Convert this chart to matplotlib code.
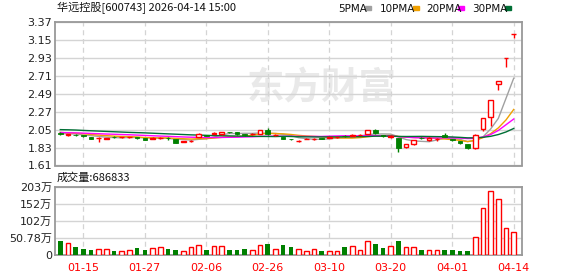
import matplotlib
matplotlib.use('Agg')
import numpy as np
import matplotlib.pyplot as plt

RED = '#ff0000'
GREEN = '#008000'
GRID = '#d4d4d4'
SPINE = '#999999'
MA_COLOURS = {'5PMA': '#a0a0a0', '10PMA': '#f0a000', '20PMA': '#ff00ff', '30PMA': '#006f35'}
CJK = ['DejaVu Sans', 'Noto Sans CJK SC']

# ── data ───────────────────────────────────────────────────────────────────
opens = [2.01, 1.99, 1.99, 1.985, 1.965, 1.945, 1.94, 1.965, 1.955, 1.955,
         1.955, 1.945, 1.94, 1.945, 1.95, 1.93, 1.90, 1.91, 1.965, 1.98,
         2.00, 1.995, 2.02, 2.015, 1.995, 1.995, 2.00, 2.04, 1.98, 1.965,
         1.935, 1.905, 1.935, 1.935, 1.945, 1.95, 1.955, 1.975, 1.975, 1.985,
         2.00, 2.05, 1.985, 1.965, 1.945, 1.84, 1.87, 1.95, 1.92, 1.93,
         1.99, 1.93, 1.91, 1.87, 1.83, 2.06, 2.21, 2.61, 2.93, 3.22]
highs = [2.015, 2.00, 1.995, 1.99, 1.965, 1.955, 1.95, 1.97, 1.965, 1.965,
         1.96, 1.95, 1.955, 1.96, 1.955, 1.935, 1.91, 1.925, 2.005, 1.985,
         2.02, 2.025, 2.025, 2.02, 2.00, 2.01, 2.045, 2.07, 1.995, 1.965,
         1.94, 1.92, 1.95, 1.945, 1.95, 1.96, 1.965, 1.985, 2.00, 1.995,
         2.045, 2.055, 1.99, 1.99, 1.95, 1.875, 1.925, 1.96, 1.955, 1.945,
         2.005, 1.94, 1.915, 1.875, 1.995, 2.195, 2.41, 2.65, 2.93, 3.22]
lows = [1.99, 1.975, 1.975, 1.965, 1.935, 1.90, 1.93, 1.95, 1.95, 1.95,
        1.94, 1.92, 1.935, 1.93, 1.925, 1.885, 1.895, 1.895, 1.96, 1.97,
        1.995, 1.99, 2.01, 1.99, 1.97, 1.99, 1.995, 1.99, 1.97, 1.93,
        1.92, 1.895, 1.93, 1.925, 1.935, 1.95, 1.95, 1.965, 1.97, 1.985,
        1.995, 2.00, 1.965, 1.95, 1.775, 1.82, 1.865, 1.935, 1.915, 1.905,
        1.96, 1.915, 1.875, 1.81, 1.81, 2.03, 2.10, 2.53, 2.82, 3.17]
closes = [1.995, 1.995, 1.98, 1.97, 1.94, 1.95, 1.945, 1.955, 1.96, 1.96,
          1.945, 1.925, 1.95, 1.95, 1.945, 1.89, 1.905, 1.915, 2.00, 1.975,
          2.005, 2.02, 2.015, 1.995, 1.99, 2.00, 2.045, 1.995, 1.985, 1.935,
          1.93, 1.91, 1.94, 1.94, 1.94, 1.955, 1.96, 1.97, 1.98, 1.99,
          2.04, 2.005, 1.97, 1.97, 1.825, 1.87, 1.92, 1.945, 1.95, 1.935,
          1.965, 1.92, 1.88, 1.82, 1.99, 2.19, 2.41, 2.65, 2.93, 3.22]
volume_wan = [41.6, 35.7, 23.8, 17.8, 14.9, 17.8, 17.8, 11.9, 11.0, 14.9,
              20.8, 14.9, 20.8, 23.8, 17.8, 14.9, 11.0, 23.8, 29.7, 14.9,
              26.7, 26.7, 14.9, 14.9, 17.8, 14.9, 29.7, 32.7, 17.8, 29.7,
              23.8, 16.8, 11.0, 16.8, 11.9, 11.0, 11.0, 23.8, 26.7, 14.9,
              40.6, 32.7, 20.8, 26.7, 41.6, 23.8, 23.8, 14.9, 14.9, 14.9,
              14.9, 14.9, 11.9, 11.9, 53.5, 138.7, 190.2, 166.4, 80.2, 68.68]

ma5 = [2.00, 2.00, 1.995, 1.985, 1.976, 1.967, 1.957, 1.952, 1.95, 1.954,
       1.953, 1.949, 1.948, 1.946, 1.943, 1.932, 1.929, 1.921, 1.931, 1.937,
       1.96, 1.983, 2.003, 2.002, 2.005, 2.004, 2.009, 2.005, 2.003, 1.992,
       1.978, 1.951, 1.94, 1.931, 1.932, 1.937, 1.947, 1.953, 1.961, 1.971,
       1.988, 1.997, 1.997, 1.995, 1.962, 1.928, 1.912, 1.906, 1.902, 1.924,
       1.943, 1.943, 1.93, 1.904, 1.915, 1.96, 2.058, 2.188, 2.434, 2.68]
ma10 = [2.015, 2.01, 2.005, 2.0, 1.99, 1.983, 1.976, 1.97, 1.966, 1.965,
        1.96, 1.953, 1.95, 1.948, 1.9485, 1.9425, 1.9385, 1.9345, 1.9385, 1.94,
        1.946, 1.9555, 1.962, 1.9665, 1.971, 1.982, 1.996, 2.004, 2.0025, 1.9985,
        1.991, 1.98, 1.9725, 1.967, 1.962, 1.9575, 1.949, 1.9465, 1.946, 1.9515,
        1.9625, 1.972, 1.975, 1.978, 1.9665, 1.958, 1.954, 1.9515, 1.9485, 1.943,
        1.9355, 1.927, 1.918, 1.903, 1.9195, 1.9515, 2.0005, 2.071, 2.169, 2.2975]
ma20 = [2.015, 2.012, 2.01, 2.007, 2.003, 2.0, 1.996, 1.993, 1.99, 1.987,
        1.983, 1.979, 1.975, 1.971, 1.968, 1.964, 1.96, 1.957, 1.955, 1.9525,
        1.953, 1.954, 1.956, 1.957, 1.96, 1.962, 1.967, 1.969, 1.9705, 1.969,
        1.9685, 1.968, 1.967, 1.967, 1.9665, 1.97, 1.9725, 1.975, 1.974, 1.975,
        1.977, 1.976, 1.974, 1.9725, 1.964, 1.958, 1.9515, 1.949, 1.947, 1.947,
        1.949, 1.9495, 1.9465, 1.9405, 1.943, 1.96, 1.99, 2.04, 2.11, 2.18]
ma30 = [2.05, 2.048, 2.045, 2.04, 2.036, 2.032, 2.028, 2.024, 2.02, 2.016,
        2.013, 2.01, 2.006, 2.002, 1.998, 1.994, 1.99, 1.986, 1.983, 1.98,
        1.977, 1.975, 1.973, 1.971, 1.969, 1.968, 1.967, 1.966, 1.965, 1.968,
        1.9657, 1.9628, 1.9615, 1.9605, 1.9605, 1.9607, 1.9612, 1.9617, 1.9623, 1.9633,
        1.9665, 1.9692, 1.9698, 1.9705, 1.9665, 1.9658, 1.9663, 1.9673, 1.9657, 1.9643,
        1.963, 1.9597, 1.9552, 1.9493, 1.9493, 1.9557, 1.9678, 1.9897, 2.0212, 2.064]

date_ticks = [3, 11, 19, 27, 35, 43, 51, 59]
date_labels = ['01-15', '01-27', '02-06', '02-26', '03-10', '03-20', '04-01', '04-14']
price_ticks = [1.61, 1.83, 2.05, 2.27, 2.49, 2.71, 2.93, 3.15, 3.37]
vol_ticks = [0, 50.78, 101.56, 152.34, 203.12]
vol_labels = ['0', '50.78万', '102万', '152万', '203万']

# ── figure ─────────────────────────────────────────────────────────────────
W, H = 578, 276
fig = plt.figure(figsize=(W / 100, H / 100), dpi=100)
fig.patch.set_facecolor('white')


def px_axes(x0, y0, x1, y1):
    return fig.add_axes([x0 / W, 1 - y1 / H, (x1 - x0) / W, (y1 - y0) / H])


ax = px_axes(55, 22, 522, 165.5)
axv = px_axes(55, 186.7, 522, 255)

x = np.arange(len(closes))
xlim = (-0.69, 60.08)

for a in (ax, axv):
    a.set_xlim(*xlim)
    for s in a.spines.values():
        s.set_color(SPINE)
        s.set_linewidth(1.3)
    a.set_xticks(date_ticks)
    a.xaxis.grid(True, color=GRID, linestyle=(0, (4, 3)), linewidth=0.9)
    a.yaxis.grid(True, color=GRID, linewidth=1.0)
    a.set_axisbelow(True)
    a.tick_params(length=0)

# watermark
ax.text(322 / W, 1 - 88 / H, '东方财富', transform=fig.transFigure,
        fontsize=27, fontweight='bold', color='#e9e9e9', ha='center', va='center',
        family=['Noto Sans CJK SC'], zorder=0)

# price panel
ax.set_ylim(1.61, 3.37)
ax.set_yticks(price_ticks)
ax.set_yticklabels([f'{t:.2f}' for t in price_ticks], fontsize=8, color='#222222')
ax.tick_params(axis='y', pad=2)
ax.set_xticklabels([])

for name, vals in zip(['5PMA', '10PMA', '20PMA', '30PMA'], [ma5, ma10, ma20, ma30]):
    ax.plot(x, vals, color=MA_COLOURS[name], linewidth=1.0, zorder=2)

bw = 0.6
for i in range(len(closes)):
    o, h, l, c = opens[i], highs[i], lows[i], closes[i]
    up = c >= o
    lo, hi = min(o, c), max(o, c)
    body = max(hi - lo, 0.003)
    if up:
        ax.vlines(i, l, lo, color=RED, linewidth=1.0, zorder=3)
        ax.vlines(i, lo + body, h, color=RED, linewidth=1.0, zorder=3)
        ax.bar(i, body, bottom=lo, width=bw, facecolor='white', edgecolor=RED,
               linewidth=1.0, zorder=4)
    else:
        ax.vlines(i, l, h, color=GREEN, linewidth=1.0, zorder=3)
        ax.bar(i, body, bottom=lo, width=bw, color=GREEN, edgecolor=GREEN,
               linewidth=0.6, zorder=4)

# volume panel
axv.set_ylim(0, 203.12)
axv.set_yticks(vol_ticks)
axv.set_yticklabels(vol_labels, fontsize=8, color='#222222', family=CJK)
axv.tick_params(axis='y', pad=2)
axv.set_xticklabels(date_labels, fontsize=8, color=RED)
axv.tick_params(axis='x', pad=6)

for i, v in enumerate(volume_wan):
    if closes[i] >= opens[i]:
        axv.bar(i, v, width=bw, facecolor='white', edgecolor=RED, linewidth=1.0, zorder=3)
    else:
        axv.bar(i, v, width=bw, color=GREEN, zorder=3)

# header texts
fig.text(57 / W, 1 - 8 / H, '华远控股[600743] 2026-04-14 15:00', fontsize=8,
         family=['Noto Sans CJK SC', 'DejaVu Sans'], va='center', ha='left', color='#111111')
fig.text(57 / W, 1 - 178 / H, '成交量:686833', fontsize=8,
         family=['Noto Sans CJK SC', 'DejaVu Sans'], va='center', ha='left', color='#111111')

legend_items = [('5PMA', 338, 365), ('10PMA', 380, 413), ('20PMA', 426, 458), ('30PMA', 472, 505)]
for name, tx, sx in legend_items:
    fig.text(tx / W, 1 - 8.5 / H, name, fontsize=7.5, va='center', ha='left', color='#111111')
    fig.patches.append(plt.Rectangle((sx / W, 1 - 10 / H), 5.5 / W, 3.5 / H,
                                     transform=fig.transFigure, color=MA_COLOURS[name]))

fig.savefig('out.png', dpi=100)
